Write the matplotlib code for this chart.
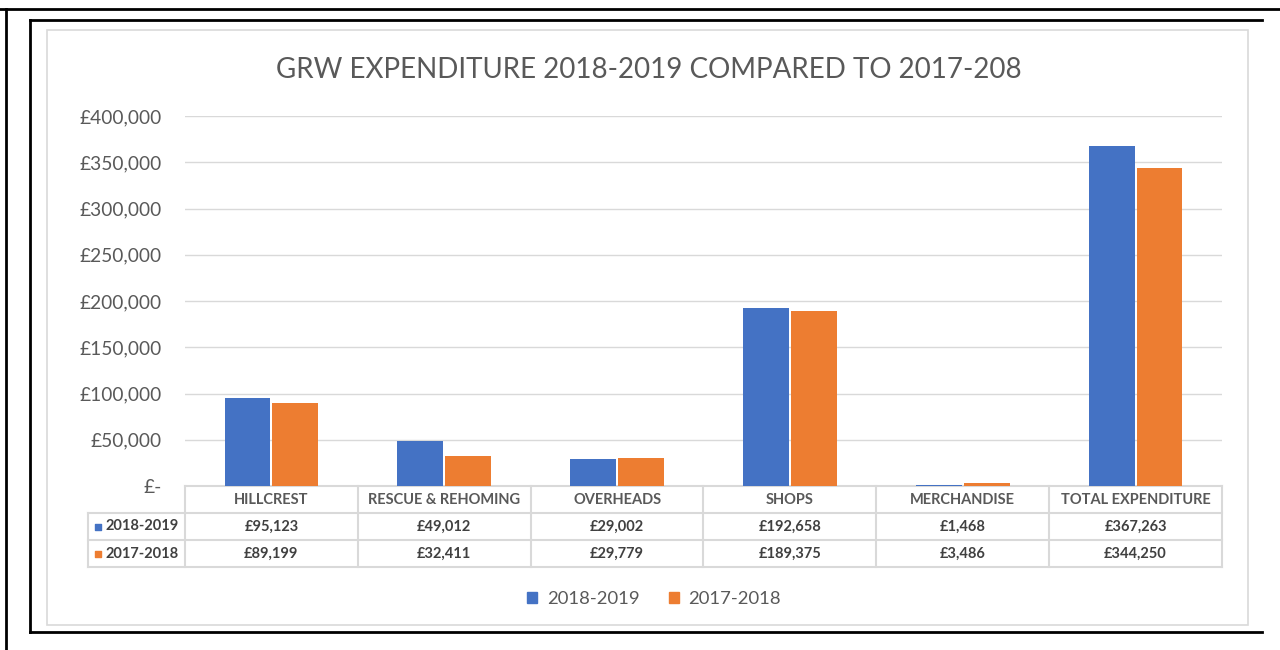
import matplotlib.pyplot as plt
import numpy as np
from matplotlib.lines import Line2D
from matplotlib.patches import Rectangle
from matplotlib.ticker import FuncFormatter

plt.rcParams['font.family'] = ['Lato', 'DejaVu Sans']

categories = ["HILLCREST", "RESCUE & REHOMING", "OVERHEADS", "SHOPS",
              "MERCHANDISE", "TOTAL EXPENDITURE"]
series_names = ["2018-2019", "2017-2018"]
spend_2018_19 = [95123, 49012, 29002, 192658, 1468, 367263]
spend_2017_18 = [89199, 32411, 29779, 189375, 3486, 344250]
colors = ["#4472C4", "#ED7D31"]

text_grey = "#595959"
line_grey = "#D9D9D9"

fig = plt.figure(figsize=(12.8, 6.5), dpi=100)
ax = fig.add_axes([185 / 1280, 1 - 486 / 650, 1037 / 1280, 370 / 650])

x = np.arange(len(categories))
w = 0.265
gap = 0.012
values = [spend_2018_19, spend_2017_18]
for i, vals in enumerate(values):
    offs = (i - 0.5) * (w + gap)
    ax.bar(x + offs, vals, width=w, color=colors[i], zorder=3)

ax.set_xlim(-0.5, len(categories) - 0.5)
ax.set_ylim(0, 400000)
ax.set_yticks(np.arange(0, 400001, 50000))
ax.yaxis.set_major_formatter(FuncFormatter(
    lambda v, p: "£-" if v == 0 else f"£{v:,.0f}"))
ax.tick_params(axis="y", length=0, pad=17, labelsize=13.8, labelcolor=text_grey)
ax.set_xticks([])
ax.grid(axis="y", color=line_grey, linewidth=1, zorder=0)
for s in ax.spines.values():
    s.set_visible(False)

# data table under the axes
trans = ax.get_xaxis_transform()
rh = 27 / 370
left = -0.5 - 97 / 173
right = len(categories) - 0.5
n = len(categories)
kw = dict(color=line_grey, linewidth=1.5, transform=trans, clip_on=False)
ax.add_line(Line2D([-0.5, right], [0, 0], **kw))
for r in range(1, 4):
    ax.add_line(Line2D([left, right], [-r * rh, -r * rh], **kw))
for b in np.arange(-0.5, n, 1.0):
    ax.add_line(Line2D([b, b], [0, -3 * rh], **kw))
ax.add_line(Line2D([left, left], [-rh, -3 * rh], **kw))

for j, cat in enumerate(categories):
    ax.text(j, -0.5 * rh, cat, transform=trans, ha="center", va="center",
            fontsize=10.5, fontweight="bold", color=text_grey)
for i, vals in enumerate(values):
    yy = -(i + 1.5) * rh
    ax.scatter([left + 0.06], [yy], marker="s", s=14, color=colors[i],
               transform=trans, clip_on=False)
    ax.text(left + 0.1, yy, series_names[i], transform=trans, ha="left",
            va="center", fontsize=10.5, fontweight="bold", color="#404040")
    for j, v in enumerate(vals):
        ax.text(j, yy, f"£{v:,}", transform=trans, ha="center", va="center",
                fontsize=10.5, fontweight="bold", color="#404040")

fig.text(0.507, 1 - 70 / 650, "GRW EXPENDITURE 2018-2019 COMPARED TO 2017-208",
         ha="center", va="center", fontsize=20, color=text_grey)

handles = [Rectangle((0, 0), 1, 1, color=c) for c in colors]
fig.legend(handles, series_names, loc="center", bbox_to_anchor=(0.511, 1 - 599 / 650),
           ncol=2, frameon=False, fontsize=13.3, handlelength=0.55, handleheight=0.55,
           handletextpad=0.5, columnspacing=1.6, labelcolor=text_grey)

# screenshot frame lines
fw = 2
fig.add_artist(Line2D([0, 1], [1 - 9 / 650] * 2, color="black", linewidth=fw))
fig.add_artist(Line2D([6 / 1280] * 2, [0, 1 - 9 / 650], color="black", linewidth=fw))
fig.add_artist(Line2D([30 / 1280, 1262 / 1280], [1 - 20 / 650] * 2, color="black", linewidth=fw))
fig.add_artist(Line2D([30 / 1280] * 2, [1 - 20 / 650, 1 - 632 / 650], color="black", linewidth=fw))
fig.add_artist(Line2D([30 / 1280, 1262 / 1280], [1 - 632 / 650] * 2, color="black", linewidth=fw))
fig.add_artist(Rectangle((47 / 1280, 1 - 625 / 650), (1248 - 47) / 1280, (625 - 30) / 650,
                         fill=False, edgecolor=line_grey, linewidth=1.2))

fig.savefig("out.png", dpi=100)
